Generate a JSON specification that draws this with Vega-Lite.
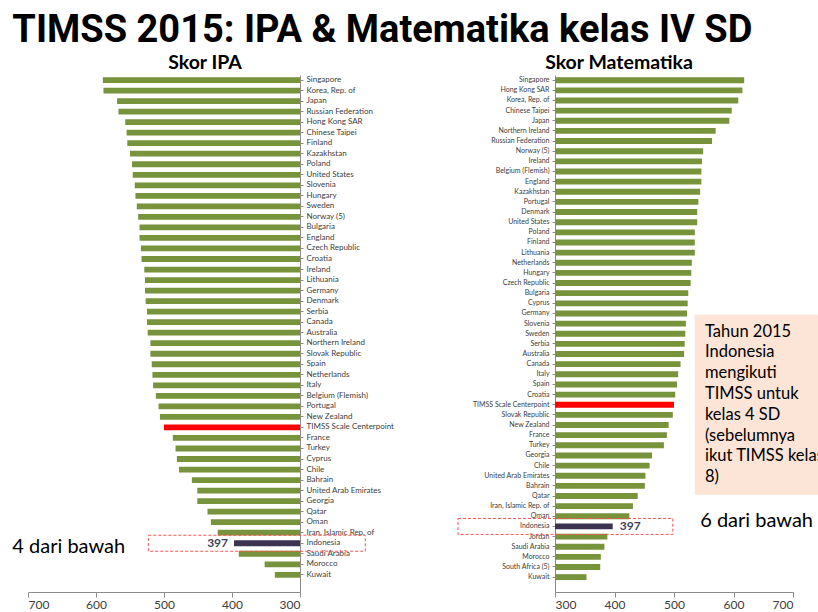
{
  "$schema": "https://vega.github.io/schema/vega-lite/v6.json",
  "padding": {"left": 12, "top": 11, "right": 0, "bottom": 0},
  "background": "white",
  "title": {"text": "TIMSS 2015: IPA & Matematika kelas IV SD", "anchor": "start", "font": "Roboto", "fontSize": 38, "fontWeight": "bold", "color": "#000000", "offset": 3},
  "config": {"view": {"stroke": null}, "font": "Lato", "axis": {"labelFont": "Lato", "grid": false, "domainColor": "#8c8c8c", "tickColor": "#8c8c8c"}},
  "datasets": {
    "ipa": [
      {"country": "Singapore", "score": 590, "kind": "n"},
      {"country": "Korea, Rep. of", "score": 589, "kind": "n"},
      {"country": "Japan", "score": 569, "kind": "n"},
      {"country": "Russian Federation", "score": 567, "kind": "n"},
      {"country": "Hong Kong SAR", "score": 557, "kind": "n"},
      {"country": "Chinese Taipei", "score": 555, "kind": "n"},
      {"country": "Finland", "score": 554, "kind": "n"},
      {"country": "Kazakhstan", "score": 550, "kind": "n"},
      {"country": "Poland", "score": 547, "kind": "n"},
      {"country": "United States", "score": 546, "kind": "n"},
      {"country": "Slovenia", "score": 543, "kind": "n"},
      {"country": "Hungary", "score": 542, "kind": "n"},
      {"country": "Sweden", "score": 540, "kind": "n"},
      {"country": "Norway (5)", "score": 538, "kind": "n"},
      {"country": "Bulgaria", "score": 536, "kind": "n"},
      {"country": "England", "score": 536, "kind": "n"},
      {"country": "Czech Republic", "score": 534, "kind": "n"},
      {"country": "Croatia", "score": 533, "kind": "n"},
      {"country": "Ireland", "score": 529, "kind": "n"},
      {"country": "Lithuania", "score": 528, "kind": "n"},
      {"country": "Germany", "score": 528, "kind": "n"},
      {"country": "Denmark", "score": 527, "kind": "n"},
      {"country": "Serbia", "score": 525, "kind": "n"},
      {"country": "Canada", "score": 525, "kind": "n"},
      {"country": "Australia", "score": 524, "kind": "n"},
      {"country": "Northern Ireland", "score": 520, "kind": "n"},
      {"country": "Slovak Republic", "score": 520, "kind": "n"},
      {"country": "Spain", "score": 518, "kind": "n"},
      {"country": "Netherlands", "score": 517, "kind": "n"},
      {"country": "Italy", "score": 516, "kind": "n"},
      {"country": "Belgium (Flemish)", "score": 512, "kind": "n"},
      {"country": "Portugal", "score": 508, "kind": "n"},
      {"country": "New Zealand", "score": 506, "kind": "n"},
      {"country": "TIMSS Scale Centerpoint", "score": 500, "kind": "c"},
      {"country": "France", "score": 487, "kind": "n"},
      {"country": "Turkey", "score": 483, "kind": "n"},
      {"country": "Cyprus", "score": 481, "kind": "n"},
      {"country": "Chile", "score": 478, "kind": "n"},
      {"country": "Bahrain", "score": 459, "kind": "n"},
      {"country": "United Arab Emirates", "score": 451, "kind": "n"},
      {"country": "Georgia", "score": 451, "kind": "n"},
      {"country": "Qatar", "score": 436, "kind": "n"},
      {"country": "Oman", "score": 431, "kind": "n"},
      {"country": "Iran, Islamic Rep. of", "score": 421, "kind": "n"},
      {"country": "Indonesia", "score": 397, "kind": "i"},
      {"country": "Saudi Arabia", "score": 390, "kind": "n"},
      {"country": "Morocco", "score": 352, "kind": "n"},
      {"country": "Kuwait", "score": 337, "kind": "n"}
    ],
    "mtk": [
      {"country": "Singapore", "score": 618, "kind": "n"},
      {"country": "Hong Kong SAR", "score": 615, "kind": "n"},
      {"country": "Korea, Rep. of", "score": 608, "kind": "n"},
      {"country": "Chinese Taipei", "score": 597, "kind": "n"},
      {"country": "Japan", "score": 593, "kind": "n"},
      {"country": "Northern Ireland", "score": 570, "kind": "n"},
      {"country": "Russian Federation", "score": 564, "kind": "n"},
      {"country": "Norway (5)", "score": 549, "kind": "n"},
      {"country": "Ireland", "score": 547, "kind": "n"},
      {"country": "Belgium (Flemish)", "score": 546, "kind": "n"},
      {"country": "England", "score": 546, "kind": "n"},
      {"country": "Kazakhstan", "score": 544, "kind": "n"},
      {"country": "Portugal", "score": 541, "kind": "n"},
      {"country": "Denmark", "score": 539, "kind": "n"},
      {"country": "United States", "score": 539, "kind": "n"},
      {"country": "Poland", "score": 535, "kind": "n"},
      {"country": "Finland", "score": 535, "kind": "n"},
      {"country": "Lithuania", "score": 535, "kind": "n"},
      {"country": "Netherlands", "score": 530, "kind": "n"},
      {"country": "Hungary", "score": 529, "kind": "n"},
      {"country": "Czech Republic", "score": 528, "kind": "n"},
      {"country": "Bulgaria", "score": 524, "kind": "n"},
      {"country": "Cyprus", "score": 523, "kind": "n"},
      {"country": "Germany", "score": 522, "kind": "n"},
      {"country": "Slovenia", "score": 520, "kind": "n"},
      {"country": "Sweden", "score": 519, "kind": "n"},
      {"country": "Serbia", "score": 518, "kind": "n"},
      {"country": "Australia", "score": 517, "kind": "n"},
      {"country": "Canada", "score": 511, "kind": "n"},
      {"country": "Italy", "score": 507, "kind": "n"},
      {"country": "Spain", "score": 505, "kind": "n"},
      {"country": "Croatia", "score": 502, "kind": "n"},
      {"country": "TIMSS Scale Centerpoint", "score": 500, "kind": "c"},
      {"country": "Slovak Republic", "score": 498, "kind": "n"},
      {"country": "New Zealand", "score": 491, "kind": "n"},
      {"country": "France", "score": 488, "kind": "n"},
      {"country": "Turkey", "score": 483, "kind": "n"},
      {"country": "Georgia", "score": 463, "kind": "n"},
      {"country": "Chile", "score": 459, "kind": "n"},
      {"country": "United Arab Emirates", "score": 452, "kind": "n"},
      {"country": "Bahrain", "score": 451, "kind": "n"},
      {"country": "Qatar", "score": 439, "kind": "n"},
      {"country": "Iran, Islamic Rep. of", "score": 431, "kind": "n"},
      {"country": "Oman", "score": 425, "kind": "n"},
      {"country": "Indonesia", "score": 397, "kind": "i"},
      {"country": "Jordan", "score": 388, "kind": "n"},
      {"country": "Saudi Arabia", "score": 383, "kind": "n"},
      {"country": "Morocco", "score": 377, "kind": "n"},
      {"country": "South Africa (5)", "score": 376, "kind": "n"},
      {"country": "Kuwait", "score": 353, "kind": "n"}
    ]
  },
  "spacing": 63,
  "hconcat": [
    {
      "width": 272,
      "height": 517,
      "title": {"text": "Skor IPA", "frame": "group", "dx": 41, "fontSize": 19.5, "font": "Lato", "fontWeight": "bold", "color": "#000000", "offset": 2},
      "data": {"name": "ipa"},
      "layer": [
        {
          "mark": {"type": "bar"},
          "encoding": {
            "y": {"field": "country", "type": "nominal", "sort": null,
                  "scale": {"paddingInner": 0.45, "paddingOuter": 0.78, "align": 0.13},
                  "axis": {"orient": "right", "title": null, "labelFontSize": 8, "labelColor": "#404040", "tickSize": 3, "labelPadding": 3}},
            "x": {"field": "score", "type": "quantitative",
                  "scale": {"domain": [300, 700], "reverse": true, "nice": false, "zero": false},
                  "axis": {"title": null, "values": [300, 400, 500, 600, 700], "labelFontSize": 12, "labelColor": "#404040", "tickSize": 5, "labelPadding": 2}},
            "x2": {"datum": 300},
            "color": {"field": "kind", "type": "nominal", "scale": {"domain": ["n", "c", "i"], "range": ["#77933C", "#FF0000", "#3C3350"]}, "legend": null}
          }
        },
        {
          "transform": [{"filter": "datum.country === 'Indonesia'"}],
          "mark": {"type": "rect", "height": 16, "fillOpacity": 0, "stroke": "#FF5050", "strokeDash": [3, 2], "strokeWidth": 1},
          "encoding": {
            "y": {"field": "country", "type": "nominal", "sort": null},
            "x": {"datum": 523},
            "x2": {"datum": 204}
          }
        },
        {
          "transform": [{"filter": "datum.country === 'Indonesia'"}],
          "mark": {"type": "text", "align": "right", "baseline": "middle", "dx": -6, "fontSize": 12, "fontWeight": "bold", "color": "#3F3F5F"},
          "encoding": {
            "y": {"field": "country", "type": "nominal", "sort": null},
            "x": {"field": "score", "type": "quantitative"},
            "text": {"field": "score", "type": "quantitative"}
          }
        },
        {
          "transform": [{"filter": "datum.country === 'Indonesia'"}],
          "mark": {"type": "text", "align": "left", "baseline": "middle", "dy": 4, "fontSize": 20, "color": "#000000"},
          "encoding": {
            "y": {"field": "country", "type": "nominal", "sort": null},
            "x": {"datum": 723},
            "text": {"value": "4 dari bawah"}
          }
        }
      ]
    },
    {
      "width": 238,
      "height": 517,
      "title": {"text": "Skor Matematika", "frame": "group", "dx": -55, "fontSize": 19.5, "font": "Lato", "fontWeight": "bold", "color": "#000000", "offset": 2},
      "data": {"name": "mtk"},
      "layer": [
        {
          "mark": {"type": "bar"},
          "encoding": {
            "y": {"field": "country", "type": "nominal", "sort": null,
                  "scale": {"paddingInner": 0.42, "paddingOuter": 0.7, "align": 0.16},
                  "axis": {"orient": "left", "title": null, "labelFontSize": 7, "labelColor": "#404040", "tickSize": 3, "labelPadding": 3}},
            "x": {"field": "score", "type": "quantitative",
                  "scale": {"domain": [300, 700], "nice": false, "zero": false},
                  "axis": {"title": null, "values": [300, 400, 500, 600, 700], "labelFontSize": 12, "labelColor": "#404040", "tickSize": 5, "labelPadding": 2}},
            "x2": {"datum": 300},
            "color": {"field": "kind", "type": "nominal", "scale": {"domain": ["n", "c", "i"], "range": ["#55C8EA", "#FF0000", "#7030A0"]}, "legend": null}
          }
        },
        {
          "transform": [{"filter": "datum.country === 'Indonesia'"}],
          "mark": {"type": "rect", "height": 16, "fillOpacity": 0, "stroke": "#FF5050", "strokeDash": [3, 2], "strokeWidth": 1},
          "encoding": {
            "y": {"field": "country", "type": "nominal", "sort": null},
            "x": {"datum": 137},
            "x2": {"datum": 498}
          }
        },
        {
          "transform": [{"filter": "datum.country === 'Indonesia'"}],
          "mark": {"type": "text", "align": "left", "baseline": "middle", "dx": 7, "fontSize": 12, "fontWeight": "bold", "color": "#3F3F5F"},
          "encoding": {
            "y": {"field": "country", "type": "nominal", "sort": null},
            "x": {"field": "score", "type": "quantitative"},
            "text": {"field": "score", "type": "quantitative"}
          }
        },
        {
          "transform": [{"filter": "datum.country === 'Indonesia'"}],
          "mark": {"type": "text", "align": "left", "baseline": "middle", "dy": -5, "fontSize": 20, "color": "#000000"},
          "encoding": {
            "y": {"field": "country", "type": "nominal", "sort": null},
            "x": {"datum": 544},
            "text": {"value": "6 dari bawah"}
          }
        },
        {
          "transform": [{"filter": "datum.country === 'TIMSS Scale Centerpoint'"}],
          "mark": {"type": "rect", "height": 180, "fill": "#FCE4D6"},
          "encoding": {
            "y": {"field": "country", "type": "nominal", "sort": null},
            "x": {"datum": 535},
            "x2": {"datum": 742}
          }
        },
        {
          "transform": [{"filter": "datum.country === 'Slovenia'"}],
          "mark": {"type": "text", "align": "left", "baseline": "middle", "dy": 8, "fontSize": 16.5, "lineHeight": 20.8, "color": "#000000"},
          "encoding": {
            "y": {"field": "country", "type": "nominal", "sort": null},
            "x": {"datum": 552},
            "text": {"value": ["Tahun 2015", "Indonesia", "mengikuti", "TIMSS untuk", "kelas 4 SD", "(sebelumnya", "ikut TIMSS kelas", "8)"]}
          }
        }
      ]
    }
  ]
}
